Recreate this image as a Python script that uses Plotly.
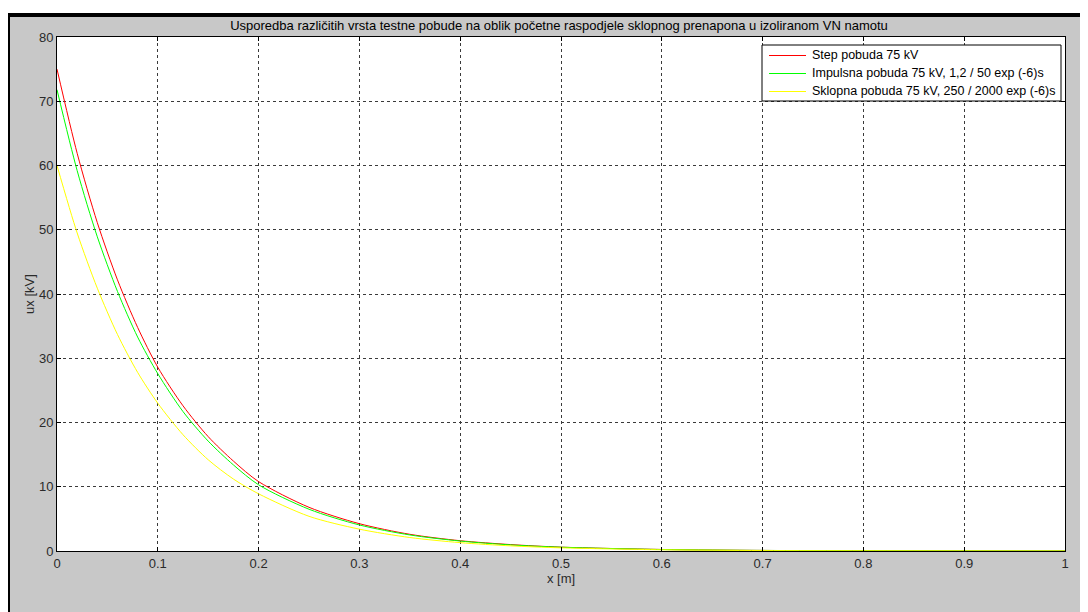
import plotly.graph_objects as go

# Data
x_m = [0, 0.02, 0.04, 0.06, 0.08, 0.1, 0.125, 0.15, 0.175, 0.2, 0.25, 0.3,
       0.35, 0.4, 0.45, 0.5, 0.6, 0.7, 0.8, 0.9, 1.0]
step_kv = [75.0, 61.9, 51.1, 42.2, 34.8, 28.6, 22.6, 17.8, 14.0, 10.8, 6.8, 4.25,
           2.6, 1.6, 1.0, 0.6, 0.24, 0.09, 0.03, 0.01, 0.0]
impuls_kv = [71.8, 59.2, 48.9, 40.4, 33.3, 27.6, 21.7, 17.1, 13.4, 10.3, 6.5, 4.05,
             2.5, 1.55, 0.95, 0.59, 0.23, 0.09, 0.03, 0.01, 0.0]
sklop_kv = [60.0, 49.5, 40.9, 33.7, 27.8, 23.0, 18.1, 14.2, 11.2, 8.9, 5.4, 3.4,
            2.1, 1.3, 0.8, 0.49, 0.19, 0.07, 0.03, 0.01, 0.0]

series_names = ["Step pobuda 75 kV",
                "Impulsna pobuda 75 kV, 1,2 / 50 exp (-6)s",
                "Sklopna pobuda 75 kV, 250 / 2000 exp (-6)s"]
series_colors = ["#ff0000", "#00ff00", "#ffff00"]
x_ticks = [0, 0.1, 0.2, 0.3, 0.4, 0.5, 0.6, 0.7, 0.8, 0.9, 1]
x_tick_text = ["0", "0.1", "0.2", "0.3", "0.4", "0.5", "0.6", "0.7", "0.8", "0.9", "1"]
y_ticks = [0, 10, 20, 30, 40, 50, 60, 70, 80]

FONT = "Liberation Sans"
FS = 13

fig = go.Figure()
for name, ys, col in zip(series_names, [step_kv, impuls_kv, sklop_kv], series_colors):
    fig.add_trace(go.Scatter(x=x_m, y=ys, mode="lines", name=name, showlegend=False,
                             line=dict(color=col, width=1, shape="spline", smoothing=0.8)))

# page body has an 8px margin: figure coordinates = screen coordinates - 8
OFF = 8
W, H = 1088, 612
L, R, T, B = 57 - OFF, W - (1065 - OFF), 37 - OFF, H - (551 - OFF)
pw, ph = W - L - R, H - T - B


def px(xs):
    return (xs - OFF - L) / pw


def py(ys):
    return (H - B - (ys - OFF)) / ph


shapes = [
    dict(type="rect", xref="paper", yref="paper", x0=px(-20), x1=px(W + 40), y0=py(13), y1=py(-20),
         fillcolor="white", line=dict(width=0), layer="above"),
    dict(type="rect", xref="paper", yref="paper", x0=px(8), x1=px(W + 40), y0=py(17), y1=py(13),
         fillcolor="black", line=dict(width=0), layer="above"),
    dict(type="rect", xref="paper", yref="paper", x0=px(8), x1=px(10), y0=py(H + 40), y1=py(13),
         fillcolor="black", line=dict(width=0), layer="above"),
    # legend box
    dict(type="rect", xref="paper", yref="paper", x0=px(762), x1=px(1061), y0=py(101), y1=py(45),
         fillcolor="white", line=dict(color="#000000", width=1), layer="above"),
]

annotations = []
row_y = [55.5, 73.5, 91.5]
for name, col, ry in zip(series_names, series_colors, row_y):
    shapes.append(dict(type="line", xref="paper", yref="paper", x0=px(769), x1=px(806),
                       y0=py(ry), y1=py(ry), line=dict(color=col, width=1), layer="above"))
    annotations.append(dict(xref="paper", yref="paper", x=px(810), y=py(ry), xanchor="left",
                            yanchor="middle", text=name, showarrow=False,
                            font=dict(family=FONT, size=12.5, color="#000000")))

axis_common = dict(
    showline=True, linecolor="#000000", linewidth=1, mirror="ticks",
    ticks="inside", ticklen=4, tickcolor="#000000",
    showgrid=True, gridcolor="#3a3a3a", gridwidth=1, griddash="3px,3px",
    zeroline=False, tickfont=dict(family=FONT, size=FS, color="#2a2a2a"),
)

fig.update_layout(
    width=W, height=H,
    margin=dict(l=L, r=R, t=T, b=B),
    paper_bgcolor="#c8c8c8", plot_bgcolor="white",
    font=dict(family=FONT, size=FS, color="#000000"),
    title=dict(text="Usporedba različitih vrsta testne pobude na oblik početne raspodjele sklopnog prenapona u izoliranom VN namotu",
               x=(559 - OFF) / W, xanchor="center", y=1 - (25 - OFF) / H, yanchor="middle",
               font=dict(family=FONT, size=FS, color="#000000")),
    xaxis=dict(range=[0, 1], tickvals=x_ticks, ticktext=x_tick_text,
               title=dict(text="x [m]", standoff=2, font=dict(family=FONT, size=FS, color="#2a2a2a")),
               **axis_common),
    yaxis=dict(range=[0, 80], tickvals=y_ticks,
               title=dict(text="ux [kV]", standoff=1, font=dict(family=FONT, size=FS, color="#2a2a2a")),
               **axis_common),
    shapes=shapes,
    annotations=annotations,
    showlegend=False,
)

fig.write_html("out.html")
